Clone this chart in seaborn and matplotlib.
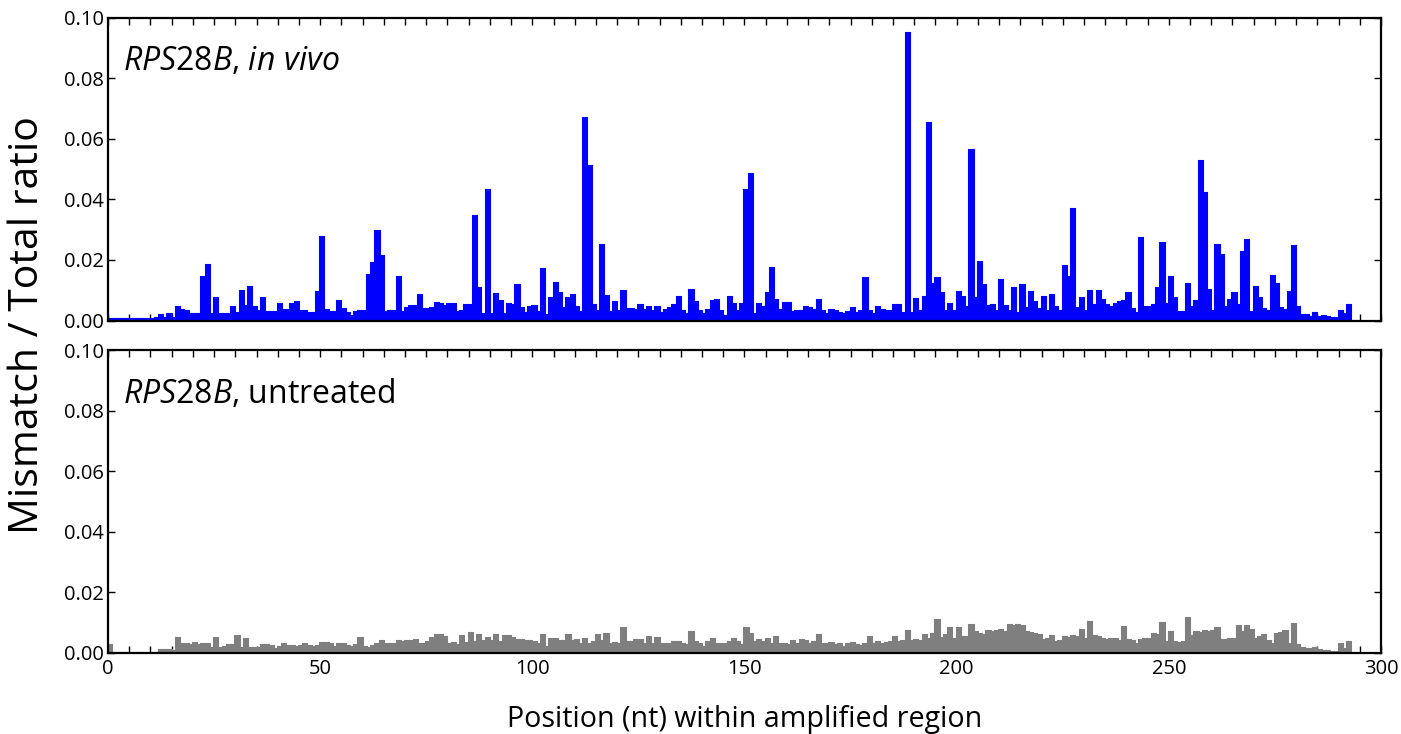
import numpy as np
import pandas as pd
import matplotlib
matplotlib.use("Agg")
import matplotlib.pyplot as plt
from matplotlib.ticker import MultipleLocator, FormatStrFormatter
import seaborn as sns

# mismatch / total ratio per position (nt 0..292)
vivo = [
    0.0006, 0.0006, 0.0006, 0.0006, 0.0006, 0.0006, 0.0006, 0.0006, 0.0006, 0.0006,
    0.0006, 0.0008, 0.0018, 0.0008, 0.0020, 0.0008, 0.0046, 0.0036, 0.0030, 0.0023,
    0.0023, 0.0020, 0.0143, 0.0185, 0.0020, 0.0073, 0.0020, 0.0020, 0.0020, 0.0043,
    0.0024, 0.0097, 0.0047, 0.0110, 0.0043, 0.0030, 0.0076, 0.0029, 0.0029, 0.0029,
    0.0054, 0.0034, 0.0034, 0.0054, 0.0060, 0.0030, 0.0030, 0.0024, 0.0024, 0.0093,
    0.0277, 0.0036, 0.0027, 0.0027, 0.0063, 0.0039, 0.0024, 0.0015, 0.0027, 0.0030,
    0.0030, 0.0150, 0.0190, 0.0297, 0.0212, 0.0027, 0.0032, 0.0030, 0.0143, 0.0027,
    0.0042, 0.0049, 0.0049, 0.0085, 0.0039, 0.0039, 0.0040, 0.0058, 0.0054, 0.0047,
    0.0054, 0.0054, 0.0027, 0.0030, 0.0050, 0.0050, 0.0345, 0.0107, 0.0020, 0.0432,
    0.0020, 0.0087, 0.0065, 0.0020, 0.0054, 0.0052, 0.0118, 0.0040, 0.0024, 0.0043,
    0.0047, 0.0027, 0.0170, 0.0018, 0.0073, 0.0123, 0.0090, 0.0041, 0.0075, 0.0084,
    0.0043, 0.0027, 0.0670, 0.0510, 0.0050, 0.0030, 0.0248, 0.0082, 0.0027, 0.0062,
    0.0032, 0.0096, 0.0038, 0.0039, 0.0034, 0.0052, 0.0034, 0.0046, 0.0030, 0.0046,
    0.0024, 0.0035, 0.0040, 0.0050, 0.0078, 0.0030, 0.0020, 0.0100, 0.0060, 0.0030,
    0.0020, 0.0035, 0.0065, 0.0068, 0.0033, 0.0015, 0.0077, 0.0053, 0.0030, 0.0054,
    0.0430, 0.0484, 0.0020, 0.0054, 0.0043, 0.0092, 0.0172, 0.0067, 0.0034, 0.0059,
    0.0059, 0.0027, 0.0032, 0.0030, 0.0043, 0.0040, 0.0036, 0.0067, 0.0032, 0.0020,
    0.0034, 0.0030, 0.0024, 0.0020, 0.0027, 0.0040, 0.0024, 0.0030, 0.0140, 0.0030,
    0.0020, 0.0043, 0.0034, 0.0030, 0.0030, 0.0050, 0.0050, 0.0024, 0.0951, 0.0024,
    0.0071, 0.0032, 0.0078, 0.0654, 0.0120, 0.0139, 0.0090, 0.0030, 0.0054, 0.0030,
    0.0093, 0.0078, 0.0045, 0.0562, 0.0073, 0.0192, 0.0118, 0.0047, 0.0052, 0.0032,
    0.0135, 0.0049, 0.0030, 0.0107, 0.0024, 0.0118, 0.0040, 0.0095, 0.0060, 0.0038,
    0.0078, 0.0030, 0.0085, 0.0046, 0.0032, 0.0179, 0.0145, 0.0368, 0.0040, 0.0073,
    0.0032, 0.0096, 0.0052, 0.0096, 0.0067, 0.0052, 0.0043, 0.0056, 0.0060, 0.0065,
    0.0090, 0.0038, 0.0024, 0.0273, 0.0043, 0.0043, 0.0052, 0.0107, 0.0256, 0.0054,
    0.0145, 0.0073, 0.0027, 0.0027, 0.0120, 0.0046, 0.0065, 0.0527, 0.0421, 0.0100,
    0.0030, 0.0251, 0.0218, 0.0046, 0.0067, 0.0092, 0.0052, 0.0225, 0.0267, 0.0027,
    0.0110, 0.0076, 0.0038, 0.0030, 0.0148, 0.0120, 0.0040, 0.0034, 0.0095, 0.0246,
    0.0043, 0.0019, 0.0019, 0.0012, 0.0025, 0.0012, 0.0015, 0.0010, 0.0008, 0.0008,
    0.0030, 0.0023, 0.0052,
]

untreated = [
    0.0025, 0.0, 0.0, 0.0, 0.0, 0.0, 0.0, 0.0, 0.0, 0.0,
    0.0, 0.0, 0.0011, 0.0011, 0.0011, 0.0007, 0.0051, 0.0031, 0.0031, 0.0025,
    0.0033, 0.0025, 0.0028, 0.0030, 0.0018, 0.0051, 0.0015, 0.0020, 0.0026, 0.0026,
    0.0055, 0.0018, 0.0047, 0.0018, 0.0018, 0.0018, 0.0026, 0.0026, 0.0022, 0.0014,
    0.0020, 0.0030, 0.0022, 0.0022, 0.0020, 0.0022, 0.0028, 0.0022, 0.0020, 0.0024,
    0.0034, 0.0034, 0.0030, 0.0020, 0.0031, 0.0031, 0.0022, 0.0020, 0.0025, 0.0049,
    0.0020, 0.0018, 0.0022, 0.0030, 0.0040, 0.0031, 0.0031, 0.0028, 0.0038, 0.0036,
    0.0038, 0.0040, 0.0042, 0.0030, 0.0028, 0.0035, 0.0051, 0.0061, 0.0060, 0.0053,
    0.0030, 0.0033, 0.0025, 0.0055, 0.0033, 0.0067, 0.0035, 0.0061, 0.0040, 0.0050,
    0.0038, 0.0058, 0.0035, 0.0056, 0.0055, 0.0050, 0.0042, 0.0042, 0.0040, 0.0039,
    0.0036, 0.0030, 0.0060, 0.0020, 0.0047, 0.0045, 0.0040, 0.0040, 0.0058, 0.0038,
    0.0042, 0.0031, 0.0047, 0.0031, 0.0035, 0.0058, 0.0040, 0.0062, 0.0030, 0.0033,
    0.0028, 0.0084, 0.0036, 0.0036, 0.0044, 0.0044, 0.0030, 0.0053, 0.0030, 0.0051,
    0.0031, 0.0031, 0.0030, 0.0036, 0.0036, 0.0031, 0.0025, 0.0070, 0.0035, 0.0031,
    0.0020, 0.0035, 0.0047, 0.0031, 0.0031, 0.0028, 0.0035, 0.0047, 0.0036, 0.0025,
    0.0081, 0.0064, 0.0035, 0.0042, 0.0035, 0.0047, 0.0030, 0.0053, 0.0031, 0.0031,
    0.0025, 0.0040, 0.0030, 0.0044, 0.0039, 0.0030, 0.0035, 0.0058, 0.0031, 0.0031,
    0.0034, 0.0025, 0.0028, 0.0020, 0.0031, 0.0033, 0.0025, 0.0023, 0.0030, 0.0053,
    0.0030, 0.0036, 0.0030, 0.0033, 0.0035, 0.0053, 0.0035, 0.0040, 0.0073, 0.0040,
    0.0044, 0.0040, 0.0058, 0.0045, 0.0062, 0.0110, 0.0050, 0.0058, 0.0081, 0.0045,
    0.0081, 0.0053, 0.0053, 0.0092, 0.0070, 0.0064, 0.0060, 0.0073, 0.0068, 0.0073,
    0.0075, 0.0070, 0.0092, 0.0090, 0.0092, 0.0088, 0.0070, 0.0066, 0.0064, 0.0058,
    0.0042, 0.0045, 0.0055, 0.0036, 0.0038, 0.0053, 0.0050, 0.0055, 0.0052, 0.0075,
    0.0047, 0.0103, 0.0055, 0.0052, 0.0047, 0.0042, 0.0047, 0.0045, 0.0040, 0.0086,
    0.0042, 0.0040, 0.0031, 0.0042, 0.0047, 0.0045, 0.0064, 0.0060, 0.0099, 0.0036,
    0.0070, 0.0036, 0.0034, 0.0036, 0.0114, 0.0055, 0.0070, 0.0066, 0.0073, 0.0070,
    0.0073, 0.0084, 0.0042, 0.0044, 0.0047, 0.0045, 0.0088, 0.0070, 0.0088, 0.0075,
    0.0045, 0.0053, 0.0058, 0.0040, 0.0031, 0.0064, 0.0066, 0.0073, 0.0031, 0.0097,
    0.0025, 0.0018, 0.0014, 0.0012, 0.0016, 0.0011, 0.0007, 0.0007, 0.0004, 0.0004,
    0.0028, 0.0014, 0.0036,
]

panel_labels = [r"$\mathit{RPS28B}$, $\mathit{in\ vivo}$", r"$\mathit{RPS28B}$, untreated"]
bar_colors = ["#0000ff", "#7f7f7f"]

sns.set_style("ticks")
plt.rcParams["font.family"] = ["Open Sans", "DejaVu Sans"]
plt.rcParams["mathtext.fontset"] = "custom"
plt.rcParams["mathtext.rm"] = "Open Sans"
plt.rcParams["mathtext.it"] = "Open Sans:italic"
plt.rcParams["text.color"] = "black"
plt.rcParams["xtick.color"] = "black"
plt.rcParams["ytick.color"] = "black"

fig, axes = plt.subplots(2, 1, figsize=(14.01, 7.34), dpi=100, sharex=True)
fig.subplots_adjust(left=0.0771, right=0.9857, top=0.9755, bottom=0.1104, hspace=0.099)

for ax, vals, col, lab in zip(axes, [vivo, untreated], bar_colors, panel_labels):
    df = pd.DataFrame({"pos": np.arange(len(vals)), "ratio": vals})
    # one bin per nucleotide, bar spans [n, n+1]
    sns.histplot(data=df, x="pos", weights="ratio", binwidth=1, binrange=(0, len(vals)),
                 color=col, edgecolor=col, linewidth=1.5, alpha=1, ax=ax)
    ax.set_xlim(0, 300)
    ax.set_ylim(0, 0.10)
    ax.xaxis.set_major_locator(MultipleLocator(50))
    ax.xaxis.set_minor_locator(MultipleLocator(5))
    ax.yaxis.set_major_locator(MultipleLocator(0.02))
    ax.yaxis.set_major_formatter(FormatStrFormatter("%.2f"))
    ax.tick_params(which="both", direction="in", top=True, right=True,
                   length=5, width=1, color="black", labelcolor="black", labelsize=14.5)
    ax.tick_params(axis="y", pad=3)
    ax.tick_params(axis="x", pad=4)
    for sp in ax.spines.values():
        sp.set_visible(True)
        sp.set_linewidth(1.6)
        sp.set_color("black")
    ax.set_xlabel("")
    ax.set_ylabel("")
    ax.text(0.012, 0.855, lab, transform=ax.transAxes, fontsize=23, va="center", ha="left",
            color="black")

fig.text(0.0195, 0.557, "Mismatch / Total ratio", rotation=90, va="center", ha="center",
         fontsize=29.5, color="black")
fig.text(0.5314, 0.0204, "Position (nt) within amplified region", va="center", ha="center",
         fontsize=20.6, color="black")

fig.savefig("out.png", dpi=100)
